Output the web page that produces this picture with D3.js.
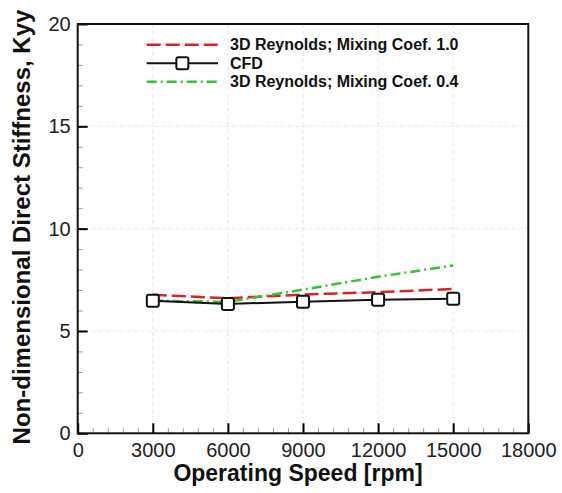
<!DOCTYPE html>
<html>
<head>
<meta charset="utf-8">
<script src="https://cdn.jsdelivr.net/npm/d3@7"></script>
<style>
  body { margin: 0; background: #fff; }
  svg text { font-family: "Liberation Sans", Arial, sans-serif; }
</style>
</head>
<body>
<div id="chart"></div>
<script>
// values
const speeds = [3000, 6000, 9000, 12000, 15000];
const cfd = [6.48, 6.32, 6.43, 6.52, 6.57];
const reynolds10 = [6.77, 6.60, 6.78, 6.90, 7.05];
const reynolds04 = [6.48, 6.42, 7.02, 7.65, 8.20];
const xTicks = [0, 3000, 6000, 9000, 12000, 15000, 18000];
const yTicks = [0, 5, 10, 15, 20];
const legendLabels = ["3D Reynolds; Mixing Coef. 1.0", "CFD", "3D Reynolds; Mixing Coef. 0.4"];

const width = 562, height = 493;
const plotLeft = 77.7, plotRight = 528.3, plotTop = 24, plotBottom = 433.3;

const svg = d3.select("#chart").append("svg")
  .attr("width", width)
  .attr("height", height);

const x = d3.scaleLinear().domain([0, 18000]).range([plotLeft, plotRight]);
const y = d3.scaleLinear().domain([0, 20]).range([plotBottom, plotTop]);

// faint grid at major ticks
svg.append("g").selectAll("line")
  .data(xTicks.slice(1, -1))
  .join("line")
  .attr("x1", d => x(d)).attr("x2", d => x(d))
  .attr("y1", plotTop).attr("y2", plotBottom)
  .attr("stroke", "#e6e6e6").attr("stroke-width", 1)
  .attr("stroke-dasharray", "4,3");
svg.append("g").selectAll("line")
  .data(yTicks.slice(1, -1))
  .join("line")
  .attr("x1", plotLeft).attr("x2", plotRight)
  .attr("y1", d => y(d)).attr("y2", d => y(d))
  .attr("stroke", "#e6e6e6").attr("stroke-width", 1)
  .attr("stroke-dasharray", "4,3");

// minor ticks
svg.append("g")
  .attr("transform", `translate(0,${plotBottom})`)
  .call(d3.axisBottom(x).tickValues(d3.range(0, 18001, 600)).tickSize(-5).tickFormat(""))
  .call(g => g.select(".domain").remove())
  .call(g => g.selectAll("line").attr("stroke", "#999").attr("stroke-width", 1));
svg.append("g")
  .attr("transform", `translate(${plotLeft},0)`)
  .call(d3.axisLeft(y).tickValues(d3.range(0, 21, 1)).tickSize(-5).tickFormat(""))
  .call(g => g.select(".domain").remove())
  .call(g => g.selectAll("line").attr("stroke", "#999").attr("stroke-width", 1));

// major ticks + labels
svg.append("g")
  .attr("transform", `translate(0,${plotBottom})`)
  .call(d3.axisBottom(x).tickValues(xTicks).tickSize(-10).tickPadding(10).tickFormat(d3.format("d")))
  .call(g => g.select(".domain").remove())
  .call(g => g.selectAll("line").attr("stroke", "#000").attr("stroke-width", 2))
  .call(g => g.selectAll("text").attr("font-size", 20).attr("fill", "#222")
    .style("font-family", "'Liberation Sans', Arial, sans-serif"));
svg.append("g")
  .attr("transform", `translate(${plotLeft},0)`)
  .call(d3.axisLeft(y).tickValues(yTicks).tickSize(-10).tickPadding(7))
  .call(g => g.select(".domain").remove())
  .call(g => g.selectAll("line").attr("stroke", "#000").attr("stroke-width", 2))
  .call(g => g.selectAll("text").attr("font-size", 20).attr("fill", "#222")
    .style("font-family", "'Liberation Sans', Arial, sans-serif"));

// frame
svg.append("rect")
  .attr("x", plotLeft).attr("y", plotTop)
  .attr("width", plotRight - plotLeft).attr("height", plotBottom - plotTop)
  .attr("fill", "none").attr("stroke", "#111").attr("stroke-width", 2);

const line = d3.line().x(d => x(d[0])).y(d => y(d[1]));

svg.append("path")
  .datum(speeds.map((s, i) => [s, reynolds10[i]]))
  .attr("d", line)
  .attr("fill", "none").attr("stroke", "#d42626").attr("stroke-width", 2.5)
  .attr("stroke-dasharray", "14,5");

svg.append("path")
  .datum(speeds.map((s, i) => [s, reynolds04[i]]))
  .attr("d", line)
  .attr("fill", "none").attr("stroke", "#33c433").attr("stroke-width", 2.5)
  .attr("stroke-dasharray", "10,4,2,4");

svg.append("path")
  .datum(speeds.map((s, i) => [s, cfd[i]]))
  .attr("d", line)
  .attr("fill", "none").attr("stroke", "#111").attr("stroke-width", 2);

svg.append("g").selectAll("rect")
  .data(speeds.map((s, i) => [s, cfd[i]]))
  .join("rect")
  .attr("x", d => x(d[0]) - 6).attr("y", d => y(d[1]) - 6)
  .attr("width", 12).attr("height", 12).attr("rx", 2)
  .attr("fill", "#fff").attr("stroke", "#111").attr("stroke-width", 2);

// legend
const legendY = [44.7, 63.3, 81.7];
const lx1 = 146.7, lx2 = 218;
const lg = svg.append("g");
lg.append("line").attr("x1", lx1).attr("x2", lx2).attr("y1", legendY[0]).attr("y2", legendY[0])
  .attr("stroke", "#d42626").attr("stroke-width", 2.5).attr("stroke-dasharray", "14,5");
lg.append("line").attr("x1", lx1).attr("x2", lx2).attr("y1", legendY[1]).attr("y2", legendY[1])
  .attr("stroke", "#111").attr("stroke-width", 2);
lg.append("rect").attr("x", (lx1 + lx2) / 2 - 6).attr("y", legendY[1] - 6)
  .attr("width", 12).attr("height", 12).attr("rx", 2)
  .attr("fill", "#fff").attr("stroke", "#111").attr("stroke-width", 2);
lg.append("line").attr("x1", lx1).attr("x2", lx2).attr("y1", legendY[2]).attr("y2", legendY[2])
  .attr("stroke", "#33c433").attr("stroke-width", 2.5).attr("stroke-dasharray", "10,4,2,4");
lg.selectAll("text")
  .data(legendLabels)
  .join("text")
  .attr("x", 230).attr("y", (d, i) => legendY[i] + 5.5)
  .attr("font-size", 16).attr("font-weight", "bold").attr("fill", "#111")
  .text(d => d);

// axis titles
svg.append("text")
  .attr("x", 298).attr("y", 481)
  .attr("text-anchor", "middle")
  .attr("font-size", 23).attr("font-weight", "bold").attr("fill", "#111")
  .text("Operating Speed [rpm]");
svg.append("text")
  .attr("transform", "translate(30,227) rotate(-90)")
  .attr("text-anchor", "middle")
  .attr("font-size", 24).attr("font-weight", "bold").attr("fill", "#111")
  .text("Non-dimensional Direct Stiffness, Kyy");
</script>
</body>
</html>
